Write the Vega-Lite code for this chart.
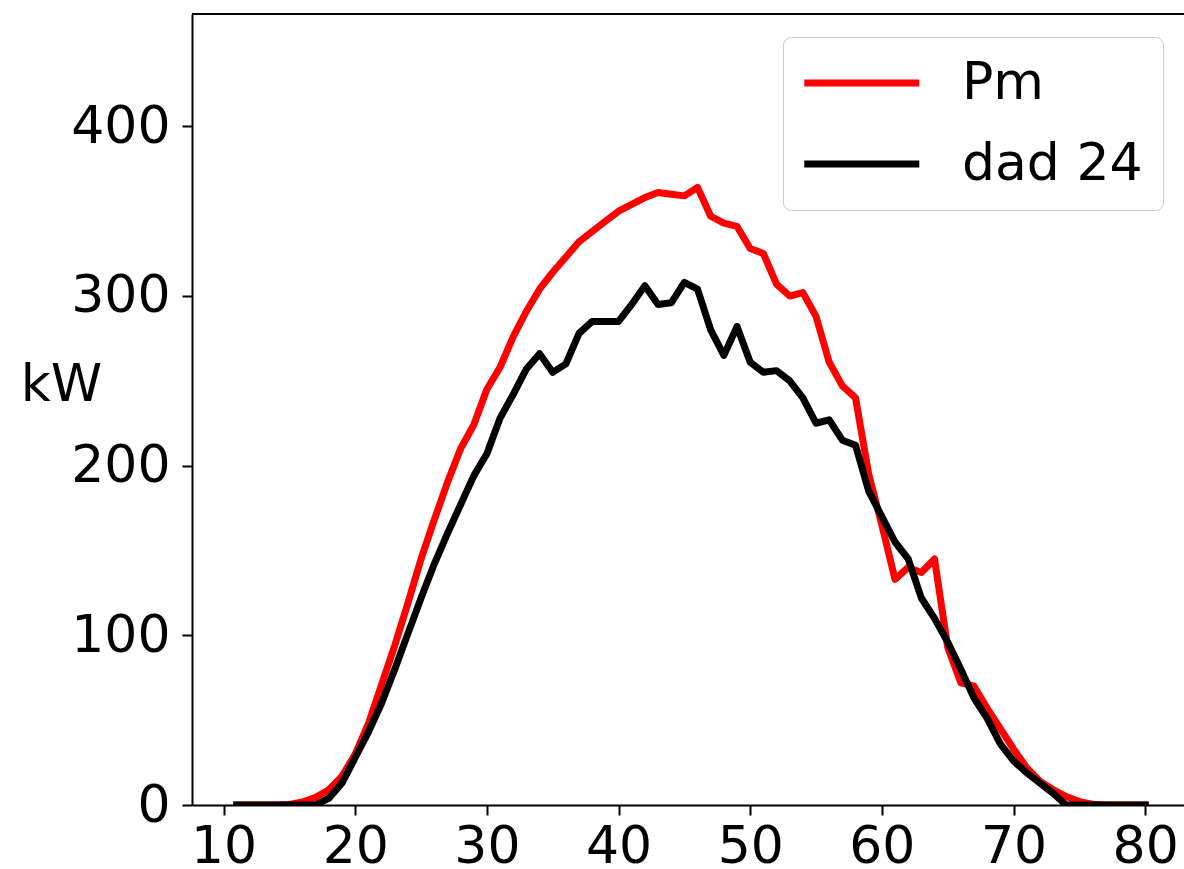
{
  "$schema": "https://vega.github.io/schema/vega-lite/v6.json",
  "width": 992,
  "height": 791,
  "autosize": {"type": "none"},
  "padding": {"left": 192, "top": 14, "right": 0, "bottom": 64},
  "background": "white",
  "datasets": {
    "curves": [
      {"x":11,"kW":0,"s":"Pm"},{"x":12,"kW":0,"s":"Pm"},{"x":13,"kW":0,"s":"Pm"},{"x":14,"kW":0,"s":"Pm"},{"x":15,"kW":0.3,"s":"Pm"},
      {"x":16,"kW":1.8,"s":"Pm"},{"x":17,"kW":4.5,"s":"Pm"},{"x":18,"kW":9,"s":"Pm"},{"x":19,"kW":17,"s":"Pm"},{"x":20,"kW":30,"s":"Pm"},
      {"x":21,"kW":48,"s":"Pm"},{"x":22,"kW":71,"s":"Pm"},{"x":23,"kW":94,"s":"Pm"},{"x":24,"kW":119,"s":"Pm"},{"x":25,"kW":145,"s":"Pm"},
      {"x":26,"kW":168,"s":"Pm"},{"x":27,"kW":190,"s":"Pm"},{"x":28,"kW":210,"s":"Pm"},{"x":29,"kW":224,"s":"Pm"},{"x":30,"kW":245,"s":"Pm"},
      {"x":31,"kW":258,"s":"Pm"},{"x":32,"kW":276,"s":"Pm"},{"x":33,"kW":291,"s":"Pm"},{"x":34,"kW":304,"s":"Pm"},{"x":35,"kW":314,"s":"Pm"},
      {"x":36,"kW":323,"s":"Pm"},{"x":37,"kW":332,"s":"Pm"},{"x":38,"kW":338,"s":"Pm"},{"x":39,"kW":344,"s":"Pm"},{"x":40,"kW":350,"s":"Pm"},
      {"x":41,"kW":354,"s":"Pm"},{"x":42,"kW":358,"s":"Pm"},{"x":43,"kW":361,"s":"Pm"},{"x":44,"kW":360,"s":"Pm"},{"x":45,"kW":359,"s":"Pm"},
      {"x":46,"kW":364,"s":"Pm"},{"x":47,"kW":347,"s":"Pm"},{"x":48,"kW":343,"s":"Pm"},{"x":49,"kW":341,"s":"Pm"},{"x":50,"kW":328,"s":"Pm"},
      {"x":51,"kW":325,"s":"Pm"},{"x":52,"kW":307,"s":"Pm"},{"x":53,"kW":300,"s":"Pm"},{"x":54,"kW":302,"s":"Pm"},{"x":55,"kW":288,"s":"Pm"},
      {"x":56,"kW":261,"s":"Pm"},{"x":57,"kW":247,"s":"Pm"},{"x":58,"kW":240,"s":"Pm"},{"x":59,"kW":195,"s":"Pm"},{"x":60,"kW":165,"s":"Pm"},
      {"x":61,"kW":133,"s":"Pm"},{"x":62,"kW":140,"s":"Pm"},{"x":63,"kW":137,"s":"Pm"},{"x":64,"kW":145,"s":"Pm"},{"x":65,"kW":93,"s":"Pm"},
      {"x":66,"kW":72,"s":"Pm"},{"x":67,"kW":70,"s":"Pm"},{"x":68,"kW":57,"s":"Pm"},{"x":69,"kW":45,"s":"Pm"},{"x":70,"kW":33,"s":"Pm"},
      {"x":71,"kW":22,"s":"Pm"},{"x":72,"kW":14,"s":"Pm"},{"x":73,"kW":9,"s":"Pm"},{"x":74,"kW":5,"s":"Pm"},{"x":75,"kW":2,"s":"Pm"},
      {"x":76,"kW":0.5,"s":"Pm"},{"x":77,"kW":0,"s":"Pm"},{"x":78,"kW":0,"s":"Pm"},{"x":79,"kW":0,"s":"Pm"},{"x":80,"kW":0,"s":"Pm"},
      {"x":11,"kW":0,"s":"dad 24"},{"x":12,"kW":0,"s":"dad 24"},{"x":13,"kW":0,"s":"dad 24"},{"x":14,"kW":0,"s":"dad 24"},{"x":15,"kW":0,"s":"dad 24"},
      {"x":16,"kW":0,"s":"dad 24"},{"x":17,"kW":0,"s":"dad 24"},{"x":18,"kW":4,"s":"dad 24"},{"x":19,"kW":13,"s":"dad 24"},{"x":20,"kW":28,"s":"dad 24"},
      {"x":21,"kW":43,"s":"dad 24"},{"x":22,"kW":60,"s":"dad 24"},{"x":23,"kW":80,"s":"dad 24"},{"x":24,"kW":101,"s":"dad 24"},{"x":25,"kW":122,"s":"dad 24"},
      {"x":26,"kW":142,"s":"dad 24"},{"x":27,"kW":160,"s":"dad 24"},{"x":28,"kW":177,"s":"dad 24"},{"x":29,"kW":194,"s":"dad 24"},{"x":30,"kW":207,"s":"dad 24"},
      {"x":31,"kW":228,"s":"dad 24"},{"x":32,"kW":242,"s":"dad 24"},{"x":33,"kW":257,"s":"dad 24"},{"x":34,"kW":266,"s":"dad 24"},{"x":35,"kW":255,"s":"dad 24"},
      {"x":36,"kW":260,"s":"dad 24"},{"x":37,"kW":278,"s":"dad 24"},{"x":38,"kW":285,"s":"dad 24"},{"x":39,"kW":285,"s":"dad 24"},{"x":40,"kW":285,"s":"dad 24"},
      {"x":41,"kW":295,"s":"dad 24"},{"x":42,"kW":306,"s":"dad 24"},{"x":43,"kW":295,"s":"dad 24"},{"x":44,"kW":296,"s":"dad 24"},{"x":45,"kW":308,"s":"dad 24"},
      {"x":46,"kW":304,"s":"dad 24"},{"x":47,"kW":280,"s":"dad 24"},{"x":48,"kW":265,"s":"dad 24"},{"x":49,"kW":282,"s":"dad 24"},{"x":50,"kW":261,"s":"dad 24"},
      {"x":51,"kW":255,"s":"dad 24"},{"x":52,"kW":256,"s":"dad 24"},{"x":53,"kW":250,"s":"dad 24"},{"x":54,"kW":240,"s":"dad 24"},{"x":55,"kW":225,"s":"dad 24"},
      {"x":56,"kW":227,"s":"dad 24"},{"x":57,"kW":215,"s":"dad 24"},{"x":58,"kW":212,"s":"dad 24"},{"x":59,"kW":185,"s":"dad 24"},{"x":60,"kW":170,"s":"dad 24"},
      {"x":61,"kW":155,"s":"dad 24"},{"x":62,"kW":145,"s":"dad 24"},{"x":63,"kW":122,"s":"dad 24"},{"x":64,"kW":110,"s":"dad 24"},{"x":65,"kW":96,"s":"dad 24"},
      {"x":66,"kW":80,"s":"dad 24"},{"x":67,"kW":63,"s":"dad 24"},{"x":68,"kW":51,"s":"dad 24"},{"x":69,"kW":36,"s":"dad 24"},{"x":70,"kW":26,"s":"dad 24"},
      {"x":71,"kW":19,"s":"dad 24"},{"x":72,"kW":13,"s":"dad 24"},{"x":73,"kW":7,"s":"dad 24"},{"x":74,"kW":0,"s":"dad 24"},{"x":75,"kW":0,"s":"dad 24"},
      {"x":76,"kW":0,"s":"dad 24"},{"x":77,"kW":0,"s":"dad 24"},{"x":78,"kW":0,"s":"dad 24"},{"x":79,"kW":0,"s":"dad 24"},{"x":80,"kW":0,"s":"dad 24"}
    ]
  },
  "layer": [
    {
      "data": {"name": "curves"},
      "mark": {"type": "line", "strokeWidth": 7, "strokeJoin": "round", "strokeCap": "square", "clip": true},
      "encoding": {
        "x": {
          "field": "x", "type": "quantitative",
          "scale": {"domain": [7.6, 82.95], "nice": false, "zero": false},
          "axis": {
            "values": [10, 20, 30, 40, 50, 60, 70, 80], "format": "d", "title": null, "grid": false,
            "labelFont": "DejaVu Sans", "labelFontSize": 52, "labelColor": "black", "labelPadding": 6,
            "tickColor": "black", "tickWidth": 2, "tickSize": 10,
            "domainColor": "black", "domainWidth": 2, "labelFlush": false, "labelOverlap": false
          }
        },
        "y": {
          "field": "kW", "type": "quantitative",
          "scale": {"domain": [0, 466.2], "nice": false},
          "axis": {
            "values": [0, 100, 200, 300, 400], "format": "d", "grid": false,
            "title": "kW", "titleAngle": 0, "titleFont": "DejaVu Sans", "titleFontSize": 52, "titleFontWeight": "normal",
            "titleColor": "black", "titleX": -131, "titleY": 386, "titleAlign": "center", "titleBaseline": "alphabetic",
            "labelFont": "DejaVu Sans", "labelFontSize": 52, "labelColor": "black", "labelPadding": 12,
            "tickColor": "black", "tickWidth": 2, "tickSize": 10,
            "domainColor": "black", "domainWidth": 2, "labelFlush": false, "labelOverlap": false
          }
        },
        "color": {
          "field": "s", "type": "nominal",
          "scale": {"domain": ["Pm", "dad 24"], "range": ["#ff0000", "#000000"]},
          "legend": {
            "orient": "none", "legendX": 591, "legendY": 23, "title": null,
            "symbolType": "M-1.15,0H4.2", "symbolStrokeWidth": 7, "symbolSize": 1849,
            "labelFont": "DejaVu Sans", "labelFontSize": 52, "labelColor": "black", "labelOffset": 107, "labelLimit": 600,
            "padding": 20, "rowPadding": 29,
            "strokeColor": "#cccccc", "cornerRadius": 8, "fillColor": "rgba(255,255,255,0.8)"
          }
        }
      }
    },
    {
      "data": {"values": [{}]},
      "mark": {"type": "rule", "color": "black", "strokeWidth": 2},
      "encoding": {"y": {"datum": 466.2}}
    }
  ],
  "config": {
    "view": {"stroke": null},
    "axis": {"labelFont": "DejaVu Sans"}
  }
}
